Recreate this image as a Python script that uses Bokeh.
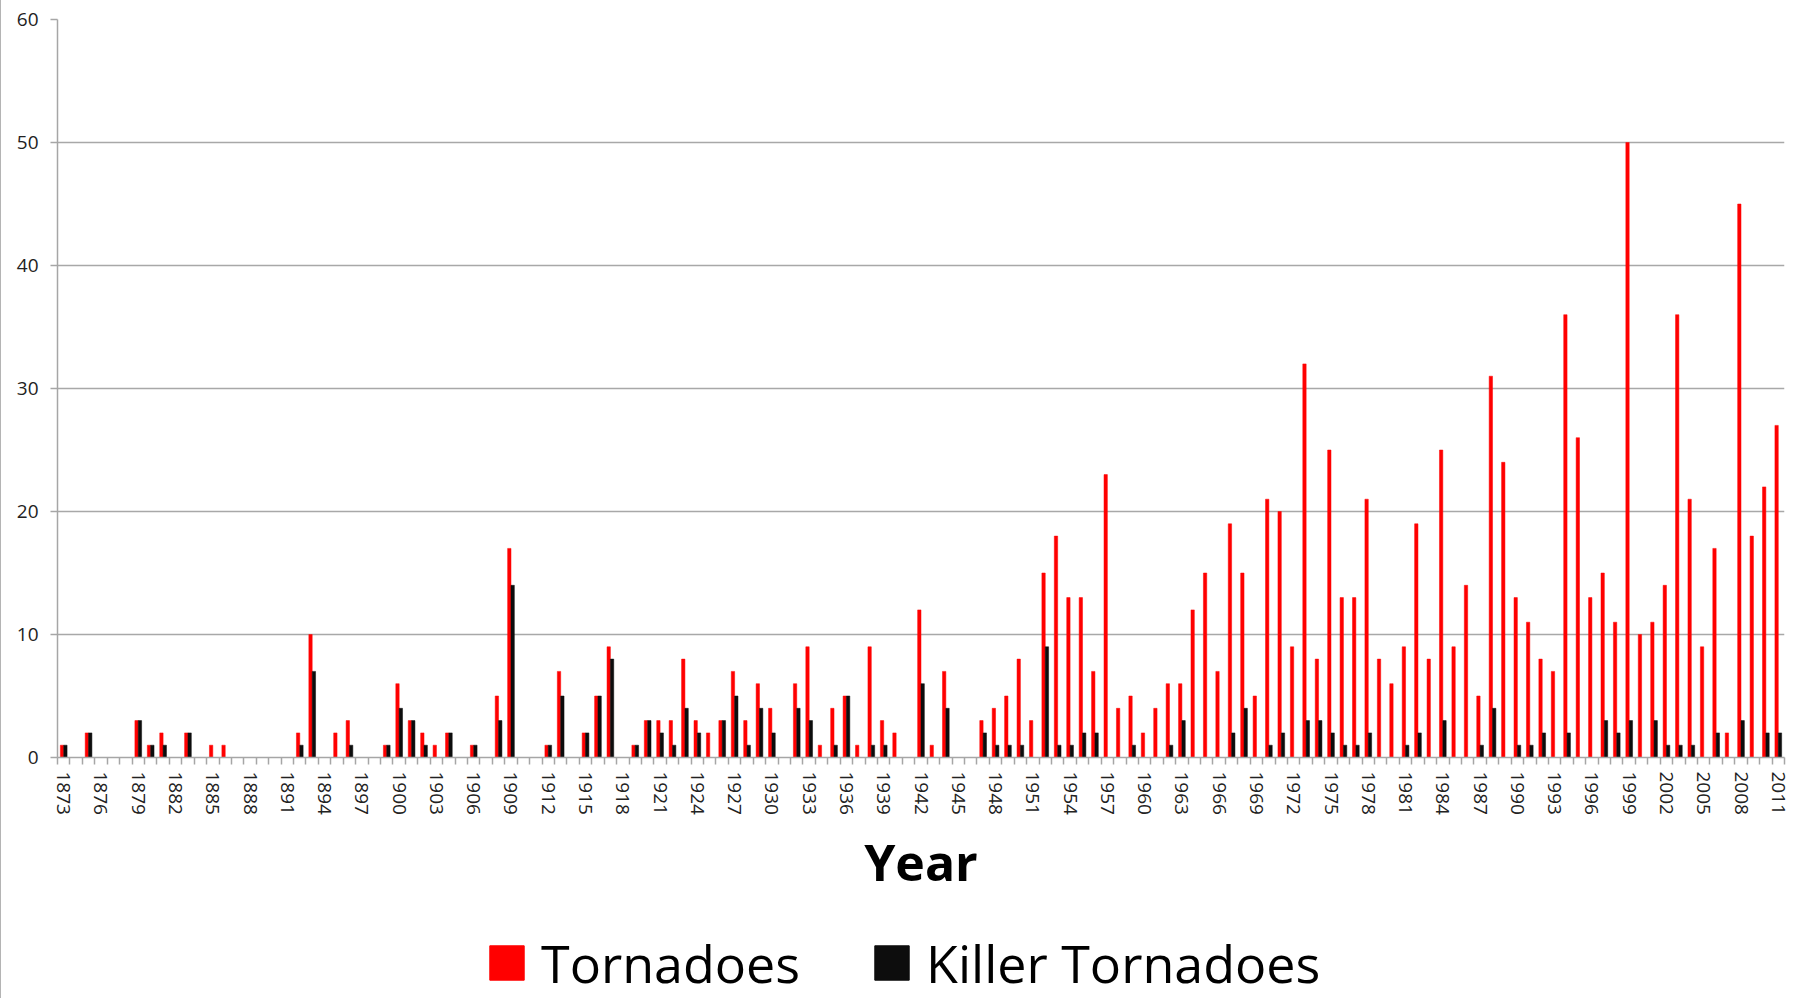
from bokeh.plotting import figure
from bokeh.models import ColumnDataSource, FixedTicker, Legend, LegendItem, Range1d
from bokeh.layouts import column
from bokeh.transform import dodge
from bokeh.embed import file_html
from bokeh.resources import INLINE

years = list(range(1873, 2012))

tornadoes = [
    1, 0, 2, 0, 0, 0, 3, 1, 2, 0,        # 1873-1882
    2, 0, 1, 1, 0, 0, 0, 0, 0, 2,        # 1883-1892
    10, 0, 2, 3, 0, 0, 1, 6, 3, 2,       # 1893-1902
    1, 2, 0, 1, 0, 5, 17, 0, 0, 1,       # 1903-1912
    7, 0, 2, 5, 9, 0, 1, 3, 3, 3,        # 1913-1922
    8, 3, 2, 3, 7, 3, 6, 4, 0, 6,        # 1923-1932
    9, 1, 4, 5, 1, 9, 3, 2, 0, 12,       # 1933-1942
    1, 7, 0, 0, 3, 4, 5, 8, 3, 15,       # 1943-1952
    18, 13, 13, 7, 23, 4, 5, 2, 4, 6,    # 1953-1962
    6, 12, 15, 7, 19, 15, 5, 21, 20, 9,  # 1963-1972
    32, 8, 25, 13, 13, 21, 8, 6, 9, 19,  # 1973-1982
    8, 25, 9, 14, 5, 31, 24, 13, 11, 8,  # 1983-1992
    7, 36, 26, 13, 15, 11, 50, 10, 11, 14,  # 1993-2002
    36, 21, 9, 17, 2, 45, 18, 22, 27     # 2003-2011
]

killer = [
    1, 0, 2, 0, 0, 0, 3, 1, 1, 0,        # 1873-1882
    2, 0, 0, 0, 0, 0, 0, 0, 0, 1,        # 1883-1892
    7, 0, 0, 1, 0, 0, 1, 4, 3, 1,        # 1893-1902
    0, 2, 0, 1, 0, 3, 14, 0, 0, 1,       # 1903-1912
    5, 0, 2, 5, 8, 0, 1, 3, 2, 1,        # 1913-1922
    4, 2, 0, 3, 5, 1, 4, 2, 0, 4,        # 1923-1932
    3, 0, 1, 5, 0, 1, 1, 0, 0, 6,        # 1933-1942
    0, 4, 0, 0, 2, 1, 1, 1, 0, 9,        # 1943-1952
    1, 1, 2, 2, 0, 0, 1, 0, 0, 1,        # 1953-1962
    3, 0, 0, 0, 2, 4, 0, 1, 2, 0,        # 1963-1972
    3, 3, 2, 1, 1, 2, 0, 0, 1, 2,        # 1973-1982
    0, 3, 0, 0, 1, 4, 0, 1, 1, 2,        # 1983-1992
    0, 2, 0, 0, 3, 2, 3, 0, 3, 1,        # 1993-2002
    1, 1, 0, 2, 0, 3, 0, 2, 2            # 2003-2011
]

series_names = ["Tornadoes", "Killer Tornadoes"]
series_fields = ["tornadoes", "killer"]
series_colors = ["#ff0000", "#0d0d0d"]
series_offsets = [-0.135, 0.135]
label_years = list(range(1873, 2012, 3))
y_ticks = [0, 10, 20, 30, 40, 50, 60]

src = ColumnDataSource(dict(year=years, tornadoes=tornadoes, killer=killer))

W = 1792
p = figure(width=W, height=898, output_backend="svg", toolbar_location=None,
           x_range=Range1d(years[0] - 0.5, years[-1] + 0.5), y_range=Range1d(0, 60),
           min_border_left=56, min_border_right=9, min_border_top=19, min_border_bottom=140)
p.outline_line_color = None
p.background_fill_color = "white"
p.border_fill_color = "white"

for fld, col, off in zip(series_fields, series_colors, series_offsets):
    p.vbar(x=dodge("year", off, range=p.x_range), width=0.27, top=fld, bottom=0,
           source=src, fill_color=col, line_color=col, line_width=0.5)

# grid
p.xgrid.visible = False
p.ygrid.ticker = FixedTicker(ticks=y_ticks)
p.ygrid.grid_line_color = "#a8a8a8"
p.ygrid.grid_line_width = 1.5

# x axis
xa = p.xaxis[0]
xa.ticker = FixedTicker(ticks=label_years, minor_ticks=[y - 0.5 for y in years] + [years[-1] + 0.5])
xa.major_tick_out = 0
xa.major_tick_in = 0
xa.minor_tick_out = 7
xa.minor_tick_in = 0
xa.minor_tick_line_color = "#a6a6a6"
xa.minor_tick_line_width = 1.5
xa.axis_line_color = "#a6a6a6"
xa.axis_line_width = 1.5
xa.major_label_orientation = "vertical"
xa.major_label_text_font = "Open Sans"
xa.major_label_text_font_size = "19px"
xa.major_label_text_color = "#222222"
xa.major_label_standoff = 7
xa.axis_label = "Year"
xa.axis_label_text_font = "Open Sans"
xa.axis_label_text_font_size = "50px"
xa.axis_label_text_font_style = "bold"
xa.axis_label_text_color = "#000000"
xa.axis_label_standoff = 10

# y axis
ya = p.yaxis[0]
ya.ticker = FixedTicker(ticks=y_ticks)
ya.major_tick_out = 7
ya.major_tick_in = 0
ya.minor_tick_out = 0
ya.minor_tick_in = 0
ya.major_tick_line_color = "#a6a6a6"
ya.major_tick_line_width = 1.5
ya.axis_line_color = "#a6a6a6"
ya.axis_line_width = 1.5
ya.major_label_text_font = "Open Sans"
ya.major_label_text_font_size = "19px"
ya.major_label_text_color = "#222222"
ya.major_label_standoff = 12

# legend strip: the same series, hidden, so only their legend swatches show
q = figure(width=W, height=100, output_backend="svg", toolbar_location=None,
           x_range=Range1d(years[0] - 0.5, years[-1] + 0.5), y_range=Range1d(-2, -1),
           min_border=0, x_axis_location=None, y_axis_location=None)
q.outline_line_color = None
q.grid.visible = False
q.background_fill_color = "white"
q.border_fill_color = "white"
items = []
for name, fld, col in zip(series_names, series_fields, series_colors):
    r = q.vbar(x="year", top=fld, bottom=0, width=0.27, source=src,
               fill_color=col, line_color=col)
    r.visible = False
    items.append(LegendItem(label=name, renderers=[r]))

legend = Legend(items=items, orientation="horizontal", location=(428, 0),
                glyph_width=43, glyph_height=43,
                label_text_font="Open Sans", label_text_font_size="52px",
                label_text_color="#000000", label_standoff=13, spacing=70,
                padding=0, margin=0, border_line_color=None, background_fill_alpha=0,
                inactive_fill_alpha=0)
q.add_layout(legend, "center")

layout = column(p, q, spacing=0)
layout.styles = {"border-left": "1px solid #b4b4b4"}

open("out.html", "w").write(file_html(layout, INLINE))
